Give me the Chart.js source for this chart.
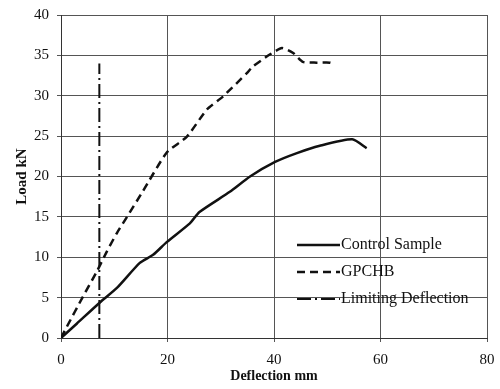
<!DOCTYPE html>
<html>
<head>
<meta charset="utf-8">
<script src="https://cdn.jsdelivr.net/npm/chart.js@4/dist/chart.umd.min.js"></script>
<style>
html,body{margin:0;padding:0;background:#fff;}
#wrap{width:500px;height:389px;position:relative;}
</style>
</head>
<body>
<div id="wrap"><canvas id="c" width="500" height="389"></canvas></div>
<script>
// Data
const controlX = [0, 3, 7.3, 10.5, 14.8, 17.3, 19.9, 24.2, 26, 31.7, 35.5, 40.2, 44.3, 48.6, 54.7, 57.4];
const controlY = [0, 1.8, 4.4, 6.2, 9.3, 10.3, 11.9, 14.2, 15.6, 18.1, 20, 21.8, 22.9, 23.8, 24.6, 23.5];
const gpchbX = [0, 1.1, 4.1, 6.7, 8.6, 10.5, 12.4, 15.4, 19.9, 23.6, 27.4, 30.4, 34.9, 36, 39.2, 41.5, 43.6, 45.4, 48, 50.5, 51.4];
const gpchbY = [0, 1.4, 5.1, 8.2, 10.7, 13, 15, 18.2, 23, 24.9, 28.3, 29.9, 32.8, 33.6, 35.1, 35.9, 35.3, 34.2, 34.1, 34.1, 33.9];
const limitX = [7.2, 7.2];
const limitY = [0, 34];
const seriesNames = ["Control Sample", "GPCHB", "Limiting Deflection"];
const xTicks = [0, 20, 40, 60, 80];
const yTicks = [0, 5, 10, 15, 20, 25, 30, 35, 40];

const pts = (xs, ys) => xs.map((x, i) => ({x: x, y: ys[i]}));
const FONT = "'Liberation Serif', 'Times New Roman', serif";

const legendPlugin = {
  id: 'inlineLegend',
  afterDatasetsDraw(chart) {
    const ctx = chart.ctx;
    const a = chart.chartArea;
    const x0 = a.left + 236;
    const rows = [a.top + 230, a.top + 257, a.top + 284];
    ctx.save();
    chart.data.datasets.forEach((ds, i) => {
      const y = rows[i];
      ctx.strokeStyle = ds.borderColor;
      ctx.lineWidth = ds.borderWidth;
      ctx.setLineDash(ds.borderDash || []);
      ctx.beginPath();
      ctx.moveTo(x0, y);
      ctx.lineTo(x0 + 43, y);
      ctx.stroke();
      ctx.setLineDash([]);
      ctx.fillStyle = '#111';
      ctx.font = "16px " + FONT;
      ctx.textBaseline = 'middle';
      ctx.textAlign = 'left';
      ctx.fillText(seriesNames[i], x0 + 44, y);
    });
    ctx.restore();
  }
};

new Chart(document.getElementById('c'), {
  type: 'line',
  data: {
    datasets: [
      {label: seriesNames[0], data: pts(controlX, controlY), borderColor: '#111', borderWidth: 2.5, pointRadius: 0, tension: 0.2, fill: false},
      {label: seriesNames[1], data: pts(gpchbX, gpchbY), borderColor: '#111', borderWidth: 2.5, borderDash: [8, 5], pointRadius: 0, tension: 0.2, fill: false},
      {label: seriesNames[2], data: pts(limitX, limitY), borderColor: '#111', borderWidth: 2, borderDash: [14, 4, 2, 4], pointRadius: 0, fill: false}
    ]
  },
  options: {
    responsive: false,
    animation: false,
    layout: {padding: {top: 15, right: 13, left: 0, bottom: 0}},
    plugins: {legend: {display: false}, tooltip: {enabled: false}},
    scales: {
      x: {
        type: 'linear', min: 0, max: 80,
        afterBuildTicks: s => { s.ticks = xTicks.map(v => ({value: v})); },
        afterFit: s => { s.height = 51; s.paddingLeft = 0; s.paddingRight = 0; },
        grid: {color: '#555', lineWidth: 1, tickLength: 4, drawTicks: true},
        border: {color: '#333', width: 1},
        ticks: {color: '#111', font: {family: FONT, size: 15}, padding: 9},
        title: {display: true, text: 'Deflection mm', color: '#111', font: {family: FONT, size: 14, weight: 'bold'}, padding: {top: 0, bottom: 4}}
      },
      y: {
        type: 'linear', min: 0, max: 40,
        afterBuildTicks: s => { s.ticks = yTicks.map(v => ({value: v})); },
        afterFit: s => { s.width = 61; s.paddingTop = 0; s.paddingBottom = 0; },
        grid: {color: '#555', lineWidth: 1, tickLength: 4, drawTicks: true},
        border: {color: '#333', width: 1},
        ticks: {color: '#111', font: {family: FONT, size: 15}, padding: 8},
        title: {display: true, text: 'Load kN', color: '#111', font: {family: FONT, size: 15, weight: 'bold'}, padding: {top: 13, bottom: 4}}
      }
    }
  },
  plugins: [legendPlugin]
});
</script>
</body>
</html>
